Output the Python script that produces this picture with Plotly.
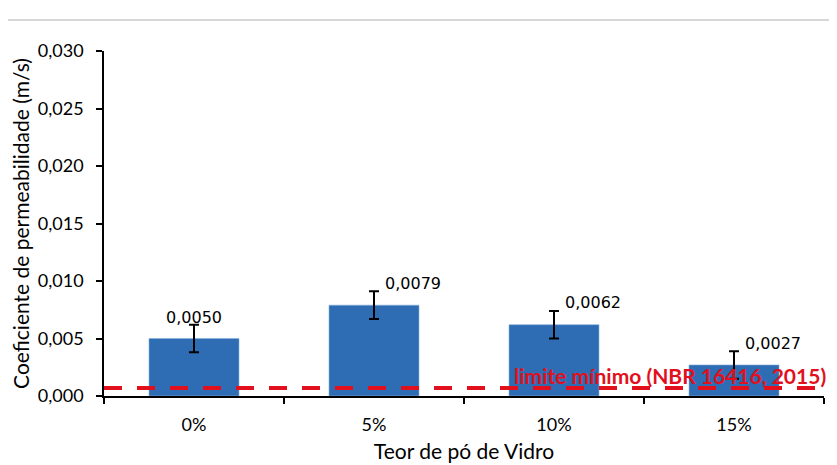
import plotly.graph_objects as go

categories = ["0%", "5%", "10%", "15%"]
values = [0.0050, 0.0079, 0.0062, 0.0027]
errors = [0.0012, 0.0012, 0.0012, 0.0012]
limit_value = 0.0007
limit_label = "limite mínimo (NBR 16416, 2015)"
y_ticks = [0.000, 0.005, 0.010, 0.015, 0.020, 0.025, 0.030]

RED = "#E2101C"

fig = go.Figure()
fig.add_trace(go.Bar(
    x=categories, y=values, width=0.5,
    marker=dict(color="#2E6DB4", line=dict(color="#8AAFDA", width=0.6)),
    error_y=dict(type="data", array=errors, visible=True, color="black",
                 thickness=2, width=5),
    showlegend=False, hoverinfo="skip",
))

for i, (c, v, e) in enumerate(zip(categories, values, errors)):
    if i == 0:
        fig.add_annotation(
            x=c, y=v + e, text=f"{v:.4f}".replace(".", ","), showarrow=False,
            xanchor="center", yanchor="middle", yshift=7,
            font=dict(family="DejaVu Sans", size=16, color="black"),
        )
    else:
        fig.add_annotation(
            x=c, y=v + e, text=f"{v:.4f}".replace(".", ","), showarrow=False,
            xanchor="left", xshift=9, yanchor="middle", yshift=8,
            font=dict(family="DejaVu Sans", size=16, color="black"),
        )

# limit line
fig.add_shape(type="line", xref="paper", yref="y", x0=0.0, x1=1.03,
              y0=limit_value, y1=limit_value,
              line=dict(color=RED, width=4, dash="18px,15px"))
fig.add_annotation(xref="paper", yref="y", x=1.006, y=limit_value, yshift=12,
                   xanchor="right", yanchor="middle", showarrow=False,
                   text="<b>" + limit_label + "</b>",
                   font=dict(family="Lato", size=21, color=RED))

# top gray border line
fig.add_shape(type="line", xref="paper", yref="paper", x0=-0.3, x1=1.3,
              y0=1.0899, y1=1.0899, line=dict(color="#C8C8C8", width=1.5))

fig.update_layout(
    width=837, height=465,
    margin=dict(l=96, r=21, t=43, b=77, autoexpand=False),
    paper_bgcolor="white", plot_bgcolor="white",
    separators=",.",
    font=dict(family="Lato", color="black"),
    xaxis=dict(
        title=dict(text="Teor de pó de Vidro", font=dict(size=21), standoff=10),
        showline=True, linecolor="black", linewidth=1.5,
        ticks="outside", tickson="boundaries", ticklen=6, tickwidth=1.5,
        tickcolor="black", tickfont=dict(size=18), showgrid=False,
        ticklabelstandoff=12, automargin=False,
    ),
    yaxis=dict(
        title=dict(text="Coeficiente de permeabilidade (m/s)", font=dict(size=21), standoff=6),
        range=[0, 0.030], tickvals=y_ticks, tickformat=".3f",
        showline=True, linecolor="black", linewidth=1.5,
        ticks="outside", ticklen=6, tickwidth=1.5, tickcolor="black",
        tickfont=dict(size=18), showgrid=False, zeroline=False,
        ticklabelstandoff=9, automargin=False,
    ),
)

fig.write_html("out.html")
